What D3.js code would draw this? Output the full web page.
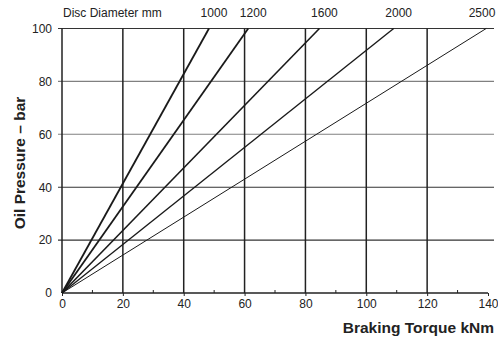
<!DOCTYPE html>
<html>
<head>
<meta charset="utf-8">
<script src="https://cdn.jsdelivr.net/npm/d3@7"></script>
<style>
  body { margin: 0; background: #fff; }
  svg { display: block; font-family: "Liberation Sans Narrow", "Arial Narrow", "Liberation Sans", sans-serif; }
</style>
</head>
<body>
<svg width="498" height="341"></svg>
<script>
// disc diameters (mm) and torque (kNm) reached at 100 bar
const diameters = [1000, 1200, 1600, 2000, 2500];
const torqueAt100 = [48.3, 61.2, 84.6, 109, 139.4];
const lineWidths = [1.8, 1.8, 1.6, 1.4, 1.0];

const xTicks = [0, 20, 40, 60, 80, 100, 120, 140];
const xMinor = [10, 30, 50, 70, 90, 110, 130];
const yTicks = [0, 20, 40, 60, 80, 100];

const svg = d3.select("svg");

const x = d3.scaleLinear().domain([0, 140]).range([62, 488]);
const y = d3.scaleLinear().domain([0, 100]).range([293, 28.5]);

// horizontal gridlines (with short outer ticks)
svg.append("g")
   .selectAll("line")
   .data(yTicks.slice(1))
   .join("line")
   .attr("x1", x(0) - 4)
   .attr("x2", x(140) + 6)
   .attr("y1", d => y(d))
   .attr("y2", d => y(d))
   .attr("stroke", d => (d == 60 || d == 80) ? "#808080" : "#333")
   .attr("stroke-width", 1.1);

// vertical gridlines
svg.append("g")
   .selectAll("line")
   .data(xTicks.slice(1, -1))
   .join("line")
   .attr("x1", d => x(d))
   .attr("x2", d => x(d))
   .attr("y1", y(0))
   .attr("y2", y(100))
   .attr("stroke", "#222")
   .attr("stroke-width", 1.5);

// x axis
const xAxis = d3.axisBottom(x).tickValues(xTicks).tickSize(3).tickPadding(3);
const gx = svg.append("g").attr("transform", `translate(0,${y(0)})`).call(xAxis);
gx.select(".domain").attr("stroke", "#222").attr("stroke-width", 1.5).attr("d", `M${x(0)},0H${x(140)}`);
gx.selectAll(".tick line").attr("stroke", "#222");
gx.selectAll(".tick text").attr("font-size", 12).attr("fill", "#222")
  .attr("font-family", "Liberation Sans Narrow, Arial Narrow, sans-serif");

// minor ticks pointing up
svg.append("g")
   .selectAll("line")
   .data(xMinor)
   .join("line")
   .attr("x1", d => x(d))
   .attr("x2", d => x(d))
   .attr("y1", y(0))
   .attr("y2", y(0) - 3)
   .attr("stroke", "#222");

// y axis
const yAxis = d3.axisLeft(y).tickValues(yTicks).tickSize(0).tickPadding(10);
const gy = svg.append("g").attr("transform", `translate(${x(0)},0)`).call(yAxis);
gy.select(".domain").attr("stroke", "#222").attr("stroke-width", 1.5).attr("d", `M0,${y(0)}V${y(100)}`);
gy.selectAll(".tick text").attr("font-size", 12).attr("fill", "#222")
  .attr("font-family", "Liberation Sans Narrow, Arial Narrow, sans-serif");

// diameter lines
diameters.forEach((dia, i) => {
	svg.append("line")
	   .attr("x1", x(0))
	   .attr("y1", y(0))
	   .attr("x2", x(torqueAt100[i]))
	   .attr("y2", y(100))
	   .attr("stroke", "#1a1a1a")
	   .attr("stroke-width", lineWidths[i]);

	svg.append("text")
	   .attr("x", Math.min(x(torqueAt100[i]) + 5, 482))
	   .attr("y", 17)
	   .attr("text-anchor", "middle")
	   .attr("font-size", 12)
	   .attr("fill", "#222")
	   .text(dia);
});

svg.append("text")
   .attr("x", 63)
   .attr("y", 17)
   .attr("font-size", 12)
   .attr("fill", "#222")
   .text("Disc Diameter mm");

// axis titles
svg.append("text")
   .attr("x", 494)
   .attr("y", 333)
   .attr("text-anchor", "end")
   .attr("font-size", 15.5)
   .attr("font-weight", "bold")
   .attr("fill", "#222")
   .text("Braking Torque kNm");

svg.append("text")
   .attr("transform", "translate(25,163) rotate(-90)")
   .attr("text-anchor", "middle")
   .attr("font-size", 15.5)
   .attr("font-weight", "bold")
   .attr("fill", "#222")
   .text("Oil Pressure – bar");
</script>
</body>
</html>
